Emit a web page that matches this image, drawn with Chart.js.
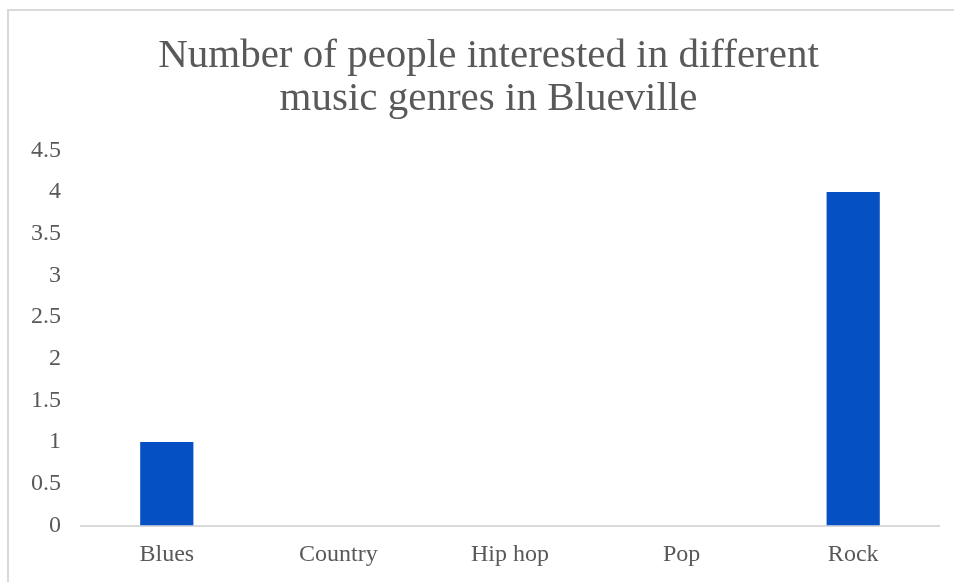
<!DOCTYPE html>
<html>
<head>
<meta charset="utf-8">
<script src="https://cdn.jsdelivr.net/npm/chart.js@4"></script>
<style>
  html, body { margin: 0; padding: 0; background: #fff; overflow: hidden; }
  #frame {
    position: absolute; left: 7px; top: 9px; width: 1000px; height: 700px;
    border-left: 2px solid #d9d9d9; border-top: 2px solid #d9d9d9;
  }
  #wrap { position: absolute; left: 0; top: 0; width: 954px; height: 582px; }
</style>
</head>
<body>
<div id="frame"></div>
<div id="wrap"><canvas id="chart"></canvas></div>
<script>
(function () {
  "use strict";

  // ── Data ─────────────────────────────────────────────
  var genres = ["Blues", "Country", "Hip hop", "Pop", "Rock"];
  var people = [1, 0, 0, 0, 4];
  var titleLines = ["Number of people interested in different", "music genres in Blueville"];

  var serif = "'Liberation Serif', 'DejaVu Serif', serif";
  var grey = "#595959";
  var axisGrey = "#d9d9d9";
  var barBlue = "#0551c3";

  // Title sits centred on the frame, not on the full canvas.
  var shiftTitle = {
    id: "shiftTitle",
    afterLayout: function (chart) {
      if (chart.titleBlock) chart.titleBlock.left += 38;
    },
  };

  new Chart(document.getElementById("chart"), {
    type: "bar",
    data: {
      labels: genres,
      datasets: [{
        data: people,
        backgroundColor: barBlue,
        borderWidth: 0,
        categoryPercentage: 1,
        barPercentage: 0.31,
      }],
    },
    options: {
      responsive: true,
      maintainAspectRatio: false,
      animation: false,
      layout: { padding: { left: 0, right: 15, top: 0, bottom: 0 } },
      plugins: {
        legend: { display: false },
        tooltip: { enabled: false },
        title: {
          display: true,
          text: titleLines,
          color: grey,
          font: { family: serif, size: 41, weight: "normal", lineHeight: 1.04 },
          padding: { top: 35, bottom: 30 },
        },
      },
      scales: {
        x: {
          grid: { color: "transparent", drawTicks: false },
          border: { display: true, color: axisGrey, width: 2 },
          ticks: { color: grey, padding: 15, font: { family: serif, size: 24 } },
          afterFit: function (scale) { scale.height = 56.5; },
        },
        y: {
          min: 0,
          max: 4.5,
          grid: { display: false, drawTicks: false },
          border: { display: false },
          ticks: {
            stepSize: 0.5,
            color: grey,
            padding: 20,
            font: { family: serif, size: 24 },
            callback: function (v) { return String(v); },
          },
          afterFit: function (scale) { scale.width = 81; },
        },
      },
    },
    plugins: [shiftTitle],
  });
})();
</script>
</body>
</html>
